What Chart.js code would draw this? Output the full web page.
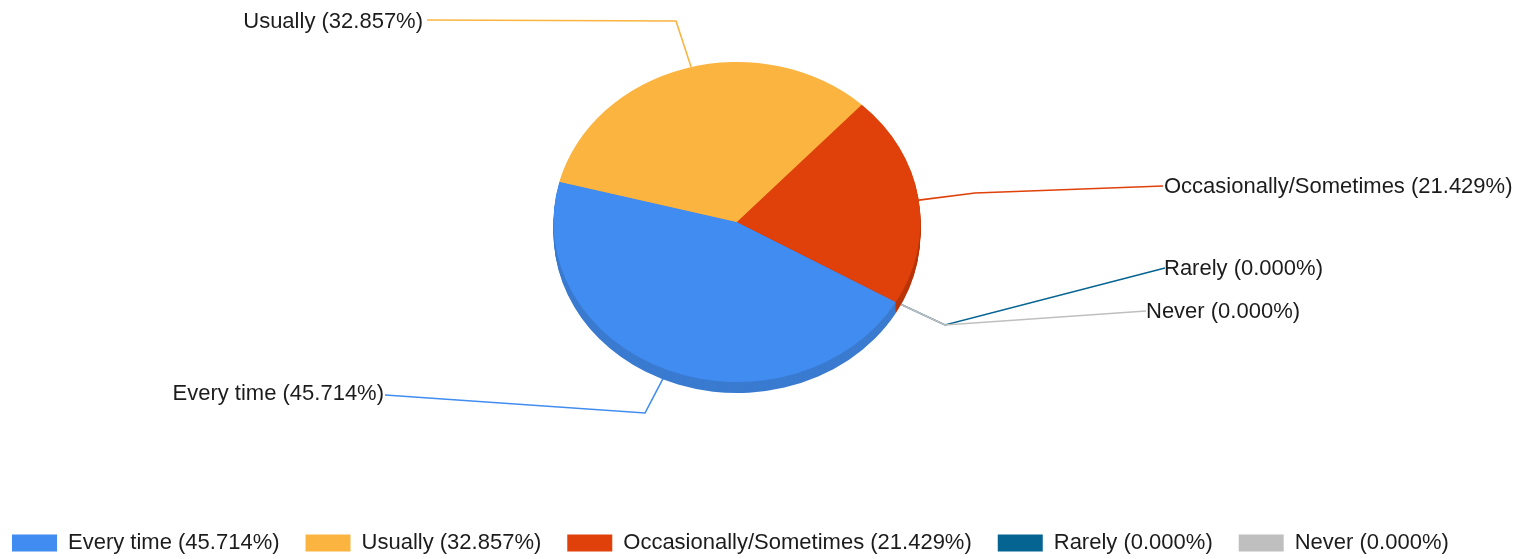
<!DOCTYPE html>
<html>
<head>
<meta charset="utf-8">
<style>
html, body { margin: 0; padding: 0; background: #fff; }
#wrap { width: 1526px; height: 559px; }
</style>
<script src="https://cdn.jsdelivr.net/npm/chart.js@4"></script>
</head>
<body>
<div id="wrap"><canvas id="myChart"></canvas></div>
<script>
var categories = ['Every time', 'Usually', 'Occasionally/Sometimes', 'Rarely', 'Never'];
var percents = [45.714, 32.857, 21.429, 0, 0];
var colors = ['#418CF0', '#FCB441', '#E0400A', '#056492', '#BFBFBF'];
var depthColors = ['#3A7BD0', '#D99B38', '#B93508', '#045078', '#A0A0A0'];

var labels = categories.map(function (c, i) { return c + ' (' + percents[i].toFixed(3) + '%)'; });

// where the outside labels sit: elbow of the leader, start of the text, alignment
var leaders = [
    { shift: 0, elbow: [645, 413], end: [385, 395], text: [384, 394], align: 'right' },
    { shift: 1.8, elbow: [676, 21], end: [427, 20], text: [423, 22], align: 'right' },
    { shift: 0.7, elbow: [975, 193], end: [1163, 186], text: [1164, 187], align: 'left' },
    { shift: 0, elbow: [945, 325], end: [1165, 268], text: [1164, 269], align: 'left' },
    { shift: 0, elbow: [945, 325], end: [1146, 311], text: [1146, 312], align: 'left' }
];

var FONT = '22px "Liberation Sans"';
var centerX = 737, centerY = 222, radius = 183.5, squash = 0.872, depth = 11;

var pie3d = {
    id: 'pie3d',
    beforeDatasetsDraw: function (chart) {
        var ctx = chart.ctx;
        var arcs = chart.getDatasetMeta(0).data;

        // leader lines go under the pie
        ctx.save();
        ctx.lineWidth = 1.6;
        arcs.forEach(function (a, i) {
            var mid = (a.startAngle + a.endAngle) / 2 + leaders[i].shift * Math.PI / 180;
            var ax = centerX + Math.cos(mid) * radius;
            var ay = centerY + Math.sin(mid) * radius * squash;
            ctx.strokeStyle = colors[i];
            ctx.beginPath();
            ctx.moveTo(ax, ay);
            ctx.lineTo(leaders[i].elbow[0], leaders[i].elbow[1]);
            ctx.lineTo(leaders[i].end[0], leaders[i].end[1]);
            ctx.stroke();
        });
        ctx.restore();

        // side of the pie
        ctx.save();
        for (var d = depth; d > 0; d--) {
            arcs.forEach(function (a, i) {
                if (a.endAngle - a.startAngle <= 0) return;
                ctx.save();
                ctx.translate(centerX, centerY + d);
                ctx.scale(1, squash);
                ctx.fillStyle = depthColors[i];
                ctx.beginPath();
                ctx.moveTo(0, 0);
                ctx.arc(0, 0, a.outerRadius, a.startAngle, a.endAngle);
                ctx.closePath();
                ctx.fill();
                ctx.restore();
            });
        }
        ctx.restore();

        // flatten the real arcs
        var first = arcs[0];
        ctx.save();
        ctx.translate(centerX, centerY);
        ctx.scale(1, squash);
        ctx.translate(-first.x, -first.y);
    },
    afterDatasetsDraw: function (chart) {
        var ctx = chart.ctx;
        ctx.restore();

        ctx.save();
        ctx.font = FONT;
        ctx.fillStyle = '#1c1c1c';
        ctx.textBaseline = 'middle';
        labels.forEach(function (t, i) {
            ctx.textAlign = leaders[i].align;
            ctx.fillText(t, leaders[i].text[0], leaders[i].text[1]);
        });
        ctx.restore();
    }
};

var ctx = document.getElementById('myChart').getContext('2d');
var myChart = new Chart(ctx, {
    type: 'pie',
    plugins: [pie3d],
    data: {
        labels: labels,
        datasets: [{
            data: percents,
            backgroundColor: colors,
            borderWidth: 0,
            radius: radius,
            clip: false
        }]
    },
    options: {
        responsive: true,
        maintainAspectRatio: false,
        animation: false,
        events: [],
        rotation: 120,
        layout: { padding: { left: -14, right: 38, top: 0, bottom: -5 } },
        plugins: {
            tooltip: { enabled: false },
            legend: {
                position: 'bottom',
                align: 'start',
                labels: {
                    boxWidth: 45,
                    boxHeight: 17,
                    padding: 26,
                    color: '#1c1c1c',
                    font: { family: 'Liberation Sans', size: 22 }
                }
            }
        }
    }
});
</script>
</body>
</html>
